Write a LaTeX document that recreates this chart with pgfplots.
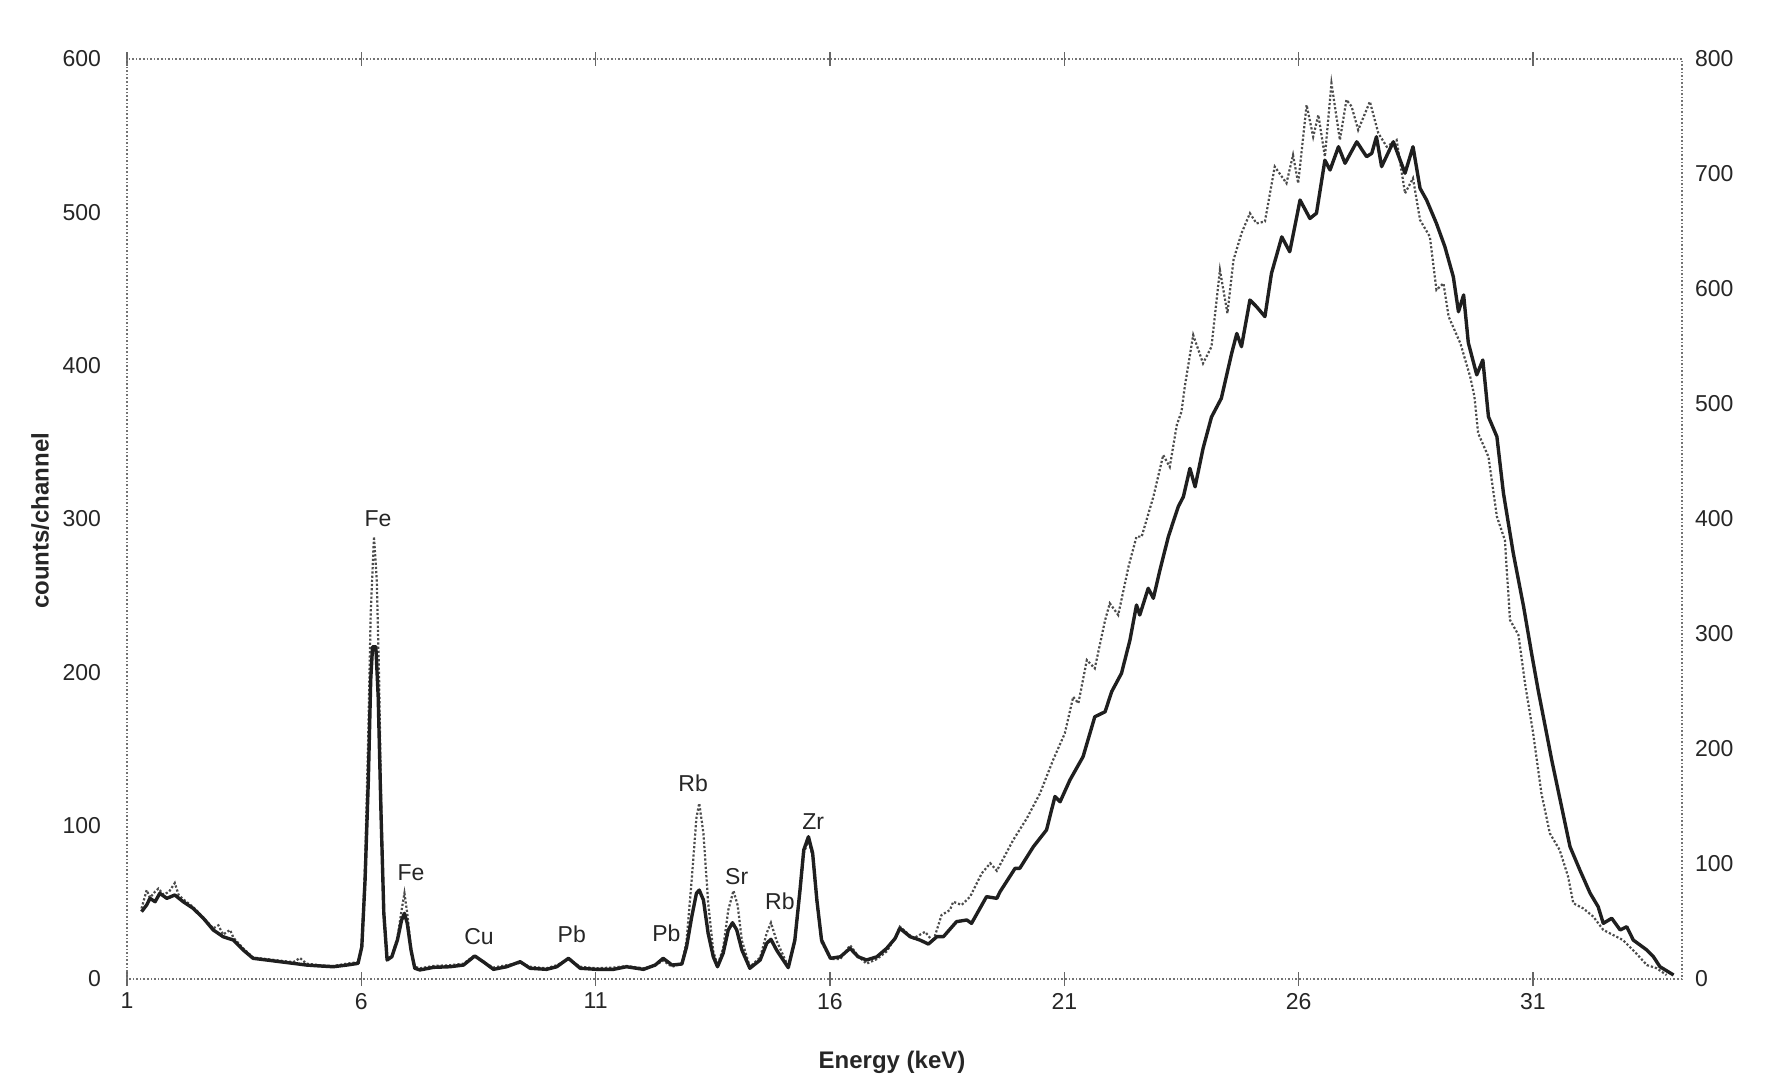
\documentclass[border=0pt]{standalone}
\usepackage{fontspec}
\setmainfont{Liberation Sans}
\usepackage{pgfplots}
\pgfplotsset{compat=1.18}
\pgfplotstableread{
E V
1.31 46
1.42 58
1.49 53
1.60 57
1.67 59
1.78 55
1.90 57
2.02 62.6
2.10 55
2.20 52
2.41 47
2.63 40
2.84 33
2.95 35
3.05 29
3.20 32
3.27 27
3.48 20
3.69 14
3.98 13
4.26 12
4.55 11
4.69 13.7
4.83 10
5.12 9
5.40 8.5
5.69 10
5.93 11
6.01 21
6.08 75
6.15 162
6.20 238.5
6.27 288.5
6.33 260
6.38 195
6.42 119
6.48 43
6.55 13
6.65 15
6.77 27
6.86 45
6.92 55.9
6.98 42.8
7.06 20
7.14 8
7.25 7
7.54 8.5
7.89 9
8.18 10
8.42 15.5
8.60 11
8.82 7.5
9.10 9
9.39 10.5
9.60 8
9.95 7
10.17 9
10.42 13
10.67 8
11.02 7
11.38 7.5
11.66 8.5
12.02 7
12.27 9
12.44 12
12.63 8
12.84 10
12.94 25
13.05 65
13.15 105
13.21 114.6
13.30 95
13.40 50
13.51 18
13.60 9
13.72 20
13.83 45
13.94 57.6
14.03 48
14.12 25
14.29 8
14.51 14
14.65 30
14.74 36.7
14.86 25
15.11 8
15.25 24
15.36 56
15.44 82
15.54 90.7
15.63 80
15.72 50
15.82 24
16.01 13
16.22 13
16.43 22
16.60 15
16.78 10
17.00 13
17.21 18
17.39 27
17.49 34.1
17.78 26.5
18.03 30.8
18.20 24.3
18.38 41.7
18.56 45
18.63 50.4
18.81 48.3
18.99 53.7
19.24 69
19.42 75.5
19.56 70.6
19.91 90.7
20.20 104.8
20.48 121
20.76 142.8
21.01 160.2
21.19 184
21.30 179.8
21.48 208
21.65 202.6
21.87 234
21.97 245
22.15 237.4
22.37 269
22.54 288.5
22.65 288.5
22.90 314.5
23.11 341.7
23.25 334
23.40 361.3
23.50 370
23.57 386.3
23.75 420
23.96 401.5
24.14 412.4
24.32 462.4
24.48 434.2
24.61 469
24.78 486.3
24.96 499.4
25.10 492.8
25.28 494
25.49 529.8
25.74 519
25.88 537.4
25.99 519
26.17 570
26.31 549.3
26.42 563.5
26.56 536.3
26.70 584.2
26.88 547.2
27.02 573.4
27.13 569
27.27 553.7
27.52 572.2
27.70 551.6
27.88 542.8
28.09 547.2
28.27 512.4
28.44 522.2
28.59 495
28.80 484.1
28.94 449.4
29.09 453.7
29.20 432
29.45 414.6
29.66 392.8
29.75 380
29.83 355.9
30.05 340.6
30.23 301.5
30.40 286.3
30.51 234.1
30.69 224.4
30.83 192.8
31.00 161
31.18 121.1
31.36 95
31.57 84.1
31.75 66.7
31.86 49.4
32.07 46.1
32.29 40.6
32.50 32
32.71 28.7
32.92 25.4
33.20 16.8
33.43 9.1
33.64 7.0
33.85 2.6
}\dotdata
\pgfplotstableread{
E V
1.31 43.9
1.42 48.3
1.49 52.6
1.60 50.4
1.70 55.9
1.85 52.6
2.02 54.8
2.20 50.4
2.41 46.1
2.63 39.6
2.84 32.0
3.05 27.6
3.27 25.4
3.48 18.9
3.69 13.5
3.98 12.4
4.26 11.3
4.55 10.2
4.83 9.1
5.12 8.5
5.40 8.0
5.69 9.1
5.93 10.2
6.01 21
6.08 64.6
6.15 130
6.20 195
6.24 216.7
6.31 216.7
6.36 184
6.42 108
6.48 42.8
6.55 12.4
6.65 14.5
6.77 25.4
6.86 38.5
6.92 42.8
6.98 36.3
7.06 18.9
7.14 7.0
7.25 5.9
7.54 7.6
7.89 8.0
8.18 9.1
8.42 15.0
8.60 11.3
8.82 6.3
9.10 8.0
9.39 11.3
9.60 7.0
9.95 6.3
10.17 8.0
10.42 13.5
10.67 7.0
11.02 6.3
11.38 6.3
11.66 8.0
12.02 6.3
12.27 9.1
12.44 13.5
12.63 9.1
12.84 9.8
12.94 21
13.05 40.6
13.15 55.9
13.21 58
13.30 51.5
13.40 29.8
13.51 14.5
13.60 8.0
13.72 16.8
13.83 32
13.92 36.7
14.01 32
14.12 18.9
14.29 7.0
14.51 12.4
14.65 23.3
14.74 25.9
14.86 18.9
15.11 7.4
15.25 25.4
15.36 58
15.44 84.1
15.54 92.8
15.63 82
15.72 51.5
15.82 25.4
16.01 13.5
16.22 14.5
16.43 20
16.60 14.5
16.78 12.4
17.00 14.5
17.21 20
17.39 26.5
17.49 33.1
17.71 27.6
17.92 25.4
18.10 22.8
18.28 27.6
18.42 27.6
18.70 37.4
18.92 38.5
19.02 36.3
19.34 53.7
19.56 52.6
19.63 57
19.95 72.2
20.05 72.2
20.34 86.3
20.62 97.2
20.80 119
20.91 115.6
21.12 129.8
21.40 145
21.65 171
21.87 174.3
22.01 187.4
22.22 199.4
22.40 221
22.54 243.9
22.61 237.4
22.79 254.8
22.90 248.3
23.04 266.7
23.22 288.5
23.43 308
23.54 314.5
23.68 333
23.79 321
23.96 346
24.14 366.5
24.35 378.7
24.57 408
24.68 421
24.78 412.4
24.96 442.8
25.10 438.5
25.28 432
25.42 460.2
25.64 484
25.81 474.3
26.03 508
26.24 496
26.38 499.4
26.56 534
26.67 527.6
26.85 542.8
26.99 532
27.24 546
27.45 536.3
27.56 538.5
27.66 549.3
27.77 529.8
28.02 546
28.27 525.5
28.44 542.8
28.59 515.7
28.73 508
28.94 492.8
29.12 477.6
29.30 458
29.41 435.2
29.52 446.1
29.62 415
29.80 394
29.93 403.7
30.05 366.7
30.23 353.7
30.37 316.8
30.58 277.6
30.80 242.8
30.97 212.4
31.11 188.5
31.29 160.2
31.40 142.8
31.61 112.4
31.79 86.3
32.00 71.1
32.22 55.9
32.39 47.2
32.50 36.3
32.68 39.6
32.86 32
33.00 34.1
33.14 25.4
33.43 18.9
33.57 14.5
33.71 8.0
34.00 2.6
}\thickdata
\begin{document}
\begin{tikzpicture}
\useasboundingbox (-63.5pt,-52pt) rectangle (824pt,489.5pt);
\begin{axis}[
  at={(0,0)}, anchor=south west,
  scale only axis, width=777.5pt, height=460pt,
  xmin=1, xmax=34.18, ymin=0, ymax=600,
  xtick={1,6,11,16,21,26,31},
  ytick={0,100,200,300,400,500,600},
  axis line style={black!55, densely dotted, line width=0.8pt},
  tick align=center,
  x tick style={black!60, solid, line width=0.6pt},
  major tick length=7pt,
  ytick style={draw=none},
  /pgf/number format/assume math mode=true,
  tick label style={font=\fontsize{11.5}{13}\selectfont, text=black!85},
  xticklabel style={yshift=0pt},
  yticklabel style={xshift=-6pt},
  xlabel={Energy (keV)},
  ylabel={counts/channel},
  label style={font=\fontsize{12}{14}\selectfont\bfseries, text=black!85},
  xlabel style={at={(axis description cs:0.492,-0.0902)}, anchor=center},
  ylabel style={at={(axis description cs:-0.0559,0.498)}, anchor=center},
  clip=false,
]
\addplot[black!70, line width=1.1pt, densely dotted] table[x=E,y=V] {\dotdata};
\addplot[black!88, line width=1.7pt, line join=round] table[x=E,y=V] {\thickdata};
\begin{scope}[font=\fontsize{11.5}{13}\selectfont, text=black!85]
\node at (axis cs:6.355,300.3) {Fe};
\node at (axis cs:7.06,69.1) {Fe};
\node at (axis cs:8.51,27.4) {Cu};
\node at (axis cs:10.49,29.3) {Pb};
\node at (axis cs:12.51,29.8) {Pb};
\node at (axis cs:13.08,127.6) {Rb};
\node at (axis cs:14.01,66.7) {Sr};
\node at (axis cs:14.93,50.4) {Rb};
\node at (axis cs:15.64,102.6) {Zr};
\end{scope}
\end{axis}
\begin{axis}[
  at={(0,0)}, anchor=south west,
  scale only axis, width=777.5pt, height=460pt,
  xmin=1, xmax=34.18, ymin=0, ymax=800,
  axis x line=none, axis y line*=right,
  axis line style={draw=none},
  ytick={0,100,200,300,400,500,600,700,800},
  ytick style={draw=none},
  /pgf/number format/assume math mode=true,
  tick label style={font=\fontsize{11.5}{13}\selectfont, text=black!85},
  yticklabel style={xshift=3pt},
]
\addplot[draw=none] coordinates {(1,0)};
\end{axis}
\end{tikzpicture}
\end{document}
